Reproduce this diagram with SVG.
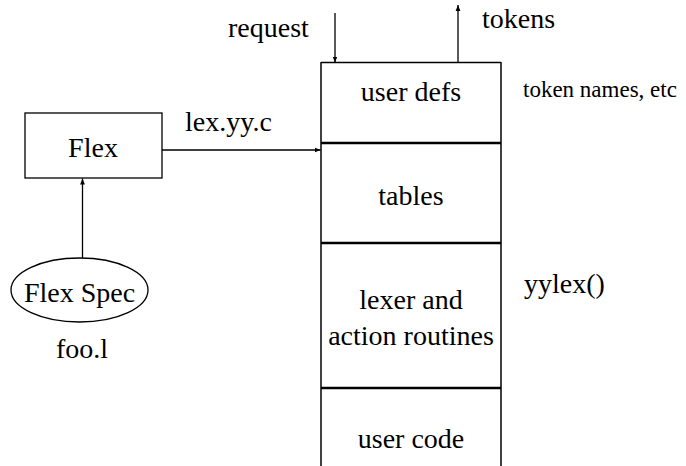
<svg xmlns="http://www.w3.org/2000/svg" width="686" height="466" viewBox="0 0 686 466">
  <style>
    text { font-family: "Liberation Serif", "Times New Roman", serif; fill: #000; }
    .big { font-size: 28px; }
    .small { font-size: 23px; }
    .mid { text-anchor: middle; }
    .box { fill: none; stroke: #000; stroke-width: 1.3; }
    .side { stroke: #000; stroke-width: 1.5; fill: none; }
    .div { stroke: #000; stroke-width: 2.5; fill: none; }
    .wire { stroke: #000; stroke-width: 1.3; fill: none; }
  </style>
  <defs>
    <marker id="head" viewBox="0 0 10 10" refX="10" refY="5" markerWidth="6" markerHeight="6" markerUnits="userSpaceOnUse" orient="auto">
      <path d="M0,1 L10,5 L0,9 Z" fill="#000"/>
    </marker>
  </defs>

  <rect width="686" height="466" fill="#fff"/>

  <!-- flex tool -->
  <g id="flex">
    <rect class="box" x="25" y="113" width="137" height="65"/>
    <text class="big mid" x="93" y="157">Flex</text>
  </g>

  <!-- input spec -->
  <g id="flex-spec">
    <ellipse class="box" cx="79.5" cy="290" rx="68.5" ry="32"/>
    <text class="big mid" x="79.5" y="302">Flex Spec</text>
    <text class="big mid" x="82" y="358">foo.l</text>
  </g>

  <!-- generated scanner layout -->
  <g id="scanner">
    <line class="side" x1="321" y1="62.5" x2="501" y2="62.5"/>
    <line class="side" x1="321" y1="62" x2="321" y2="466"/>
    <line class="side" x1="501" y1="62" x2="501" y2="466"/>
    <line class="div" x1="321" y1="143" x2="501" y2="143"/>
    <line class="div" x1="321" y1="243" x2="501" y2="243"/>
    <line class="div" x1="321" y1="388" x2="501" y2="388"/>
  </g>
  <g id="user-defs">
    <text class="big mid" x="411" y="101">user defs</text>
  </g>
  <g id="tables">
    <text class="big mid" x="411" y="205">tables</text>
  </g>
  <g id="lexer">
    <text class="big mid" x="411" y="309">lexer and</text>
    <text class="big mid" x="411" y="345">action routines</text>
  </g>
  <g id="user-code">
    <text class="big mid" x="411" y="448">user code</text>
  </g>

  <!-- side notes -->
  <g id="notes">
    <text class="small" x="523" y="97">token names, etc</text>
    <text class="big" x="524" y="293">yylex()</text>
  </g>

  <!-- connectors -->
  <g id="connectors">
    <line class="wire" x1="82.5" y1="258" x2="82.5" y2="178.5" marker-end="url(#head)"/>
    <line class="wire" x1="162" y1="150" x2="320.5" y2="150" marker-end="url(#head)"/>
    <text class="big" x="185" y="131">lex.yy.c</text>
    <line class="wire" x1="335" y1="13" x2="335" y2="62.5" marker-end="url(#head)"/>
    <text class="big" x="228" y="37">request</text>
    <line class="wire" x1="458" y1="62.5" x2="458" y2="5" marker-end="url(#head)"/>
    <text class="big" x="482" y="28">tokens</text>
  </g>
</svg>
